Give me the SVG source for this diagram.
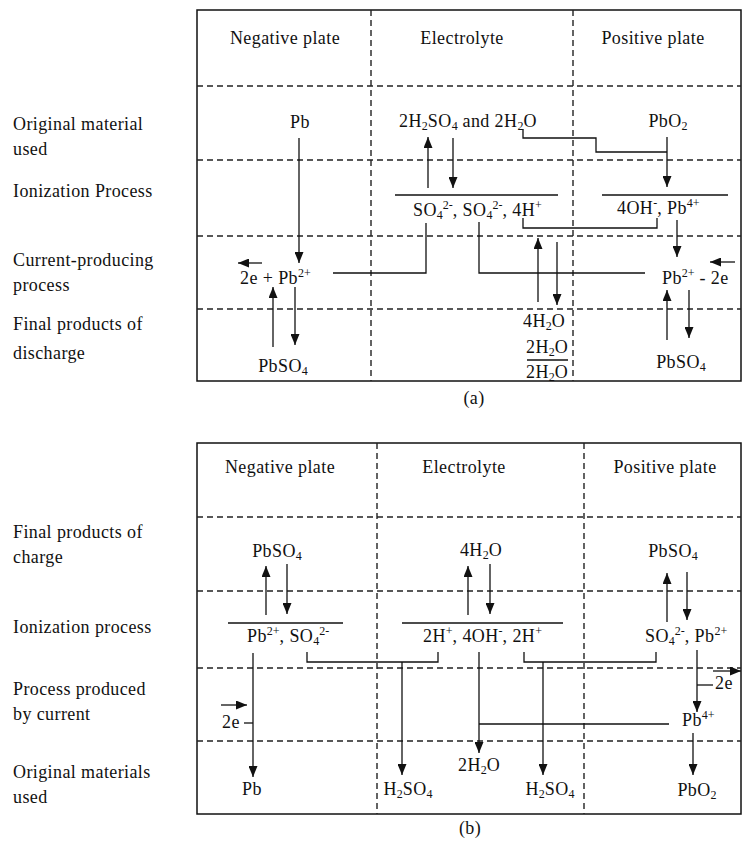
<svg xmlns="http://www.w3.org/2000/svg" width="742" height="844" viewBox="0 0 742 844">
<defs>
<marker id="ah" markerWidth="11" markerHeight="9" refX="11" refY="4.5" orient="auto" markerUnits="userSpaceOnUse"><path d="M0,0 L11,4.5 L0,9 Z" fill="#111"/></marker>
</defs>
<style>
text{font-family:"Liberation Serif","Times New Roman",serif;font-size:18px;fill:#111;letter-spacing:0.4px}
.m{text-anchor:middle}
.sb,.sp{font-size:12px;letter-spacing:0}
.frame{fill:none;stroke:#111;stroke-width:1.5}
.grid{fill:none;stroke:#222;stroke-width:1.4;stroke-dasharray:6 4}
.c{fill:none;stroke:#111;stroke-width:1.3}
.a{marker-end:url(#ah)}
</style>
<rect width="742" height="844" fill="#fff"/>

<!-- Diagram (a) frame and grid -->
<g id="frame-a">
<rect class="frame" x="197" y="10" width="544" height="371"/>
<path class="grid" d="M197,86H741M197,160H741M197,236H741M197,309H741M371,10V381M573,10V381"/>
</g>
<g id="headers-a">
<text class="m" x="285" y="44">Negative plate</text>
<text class="m" x="462" y="44">Electrolyte</text>
<text class="m" x="653" y="44">Positive plate</text>
</g>
<g id="rows-a">
<text x="13" y="130">Original material</text>
<text x="13" y="155">used</text>
<text x="13" y="197">Ionization Process</text>
<text x="13" y="266">Current-producing</text>
<text x="13" y="291">process</text>
<text x="13" y="330">Final products of</text>
<text x="13" y="359">discharge</text>
</g>
<g id="a-pb"><text class="m" x="300" y="128">Pb</text></g>
<g id="a-acid"><text x="399" y="127">2H<tspan class="sb" dy="3">2</tspan><tspan dy="-3">SO</tspan><tspan class="sb" dy="3">4</tspan><tspan dy="-3"> and 2H</tspan><tspan class="sb" dy="3">2</tspan><tspan dy="-3">O</tspan></text></g>
<g id="a-pbo2"><text class="m" x="668" y="127">PbO<tspan class="sb" dy="3">2</tspan></text></g>
<g id="a-ions-e"><text x="413" y="216">SO<tspan class="sb" dy="3">4</tspan><tspan class="sp" dy="-10">2-</tspan><tspan dy="7">, SO</tspan><tspan class="sb" dy="3">4</tspan><tspan class="sp" dy="-10">2-</tspan><tspan dy="7">, 4H</tspan><tspan class="sp" dy="-7">+</tspan></text></g>
<g id="a-ions-p"><text x="617" y="214">4OH<tspan class="sp" dy="-7">-</tspan><tspan dy="7">, Pb</tspan><tspan class="sp" dy="-7">4+</tspan></text></g>
<g id="a-neg-cur"><text x="240" y="284">2e + Pb<tspan class="sp" dy="-7">2+</tspan></text></g>
<g id="a-pos-cur"><text x="662" y="284">Pb<tspan class="sp" dy="-7">2+</tspan><tspan dy="7"> - 2e</tspan></text></g>
<g id="a-neg-prod"><text class="m" x="283" y="372">PbSO<tspan class="sb" dy="3">4</tspan></text></g>
<g id="a-pos-prod"><text class="m" x="681" y="368">PbSO<tspan class="sb" dy="3">4</tspan></text></g>
<g id="a-water">
<text x="523" y="327">4H<tspan class="sb" dy="3">2</tspan><tspan dy="-3">O</tspan></text>
<text x="526" y="353">2H<tspan class="sb" dy="3">2</tspan><tspan dy="-3">O</tspan></text>
<text x="526" y="378">2H<tspan class="sb" dy="3">2</tspan><tspan dy="-3">O</tspan></text>
</g>
<g id="caption-a"><text class="m" x="474" y="404">(a)</text></g>

<g id="connectors-a">
<path class="c a" d="M299,138V263"/>
<path class="c a" d="M262,263H238"/>
<path class="c" d="M333,273H426V223"/>
<path class="c a" d="M273,347V287"/>
<path class="c a" d="M295,287V345"/>
<path class="c a" d="M428,188V137"/>
<path class="c a" d="M453,138V188"/>
<path class="c" d="M395,195H558"/>
<path class="c" d="M523,129V138H596V152H667"/>
<path class="c a" d="M667,137V187"/>
<path class="c" d="M523,218V228H657V218"/>
<path class="c" d="M479,222V273H645"/>
<path class="c a" d="M538,302V238"/>
<path class="c a" d="M557,242V305"/>
<path class="c" d="M527,360H568"/>
<path class="c" d="M602,195H728"/>
<path class="c a" d="M677,220V257"/>
<path class="c a" d="M735,262H710"/>
<path class="c a" d="M667,340V290"/>
<path class="c a" d="M689,290V338"/>
</g>

<!-- Diagram (b) frame and grid -->
<g id="frame-b">
<rect class="frame" x="197" y="443" width="544" height="371"/>
<path class="grid" d="M197,517H741M197,591H741M197,668H741M197,741H741M377,443V814M584,443V814"/>
</g>
<g id="headers-b">
<text class="m" x="280" y="473">Negative plate</text>
<text class="m" x="464" y="473">Electrolyte</text>
<text class="m" x="665" y="473">Positive plate</text>
</g>
<g id="rows-b">
<text x="13" y="538">Final products of</text>
<text x="13" y="563">charge</text>
<text x="13" y="633">Ionization process</text>
<text x="13" y="695">Process produced</text>
<text x="13" y="720">by current</text>
<text x="13" y="778">Original materials</text>
<text x="13" y="803">used</text>
</g>
<g id="b-neg-top"><text class="m" x="277" y="557">PbSO<tspan class="sb" dy="3">4</tspan></text></g>
<g id="b-water-top"><text class="m" x="481" y="556">4H<tspan class="sb" dy="3">2</tspan><tspan dy="-3">O</tspan></text></g>
<g id="b-pos-top"><text class="m" x="673" y="557">PbSO<tspan class="sb" dy="3">4</tspan></text></g>
<g id="b-ions-n"><text x="247" y="642">Pb<tspan class="sp" dy="-7">2+</tspan><tspan dy="7">, SO</tspan><tspan class="sb" dy="3">4</tspan><tspan class="sp" dy="-10">2-</tspan></text></g>
<g id="b-ions-e"><text x="423" y="642">2H<tspan class="sp" dy="-7">+</tspan><tspan dy="7">, 4OH</tspan><tspan class="sp" dy="-7">-</tspan><tspan dy="7">, 2H</tspan><tspan class="sp" dy="-7">+</tspan></text></g>
<g id="b-ions-p"><text x="645" y="642">SO<tspan class="sb" dy="3">4</tspan><tspan class="sp" dy="-10">2-</tspan><tspan dy="7">, Pb</tspan><tspan class="sp" dy="-7">2+</tspan></text></g>
<g id="b-e-neg"><text x="222" y="728">2e</text></g>
<g id="b-e-pos"><text x="715" y="689">2e</text></g>
<g id="b-pb4"><text x="682" y="726">Pb<tspan class="sp" dy="-7">4+</tspan></text></g>
<g id="b-water"><text x="458" y="771">2H<tspan class="sb" dy="3">2</tspan><tspan dy="-3">O</tspan></text></g>
<g id="b-pb"><text class="m" x="252" y="795">Pb</text></g>
<g id="b-acid1"><text class="m" x="408" y="795">H<tspan class="sb" dy="3">2</tspan><tspan dy="-3">SO</tspan><tspan class="sb" dy="3">4</tspan></text></g>
<g id="b-acid2"><text class="m" x="550" y="795">H<tspan class="sb" dy="3">2</tspan><tspan dy="-3">SO</tspan><tspan class="sb" dy="3">4</tspan></text></g>
<g id="b-pbo2"><text class="m" x="697" y="796">PbO<tspan class="sb" dy="3">2</tspan></text></g>
<g id="caption-b"><text class="m" x="470" y="834">(b)</text></g>

<g id="connectors-b">
<path class="c a" d="M266,615V566"/>
<path class="c a" d="M287,564V614"/>
<path class="c" d="M228,623H343"/>
<path class="c a" d="M468,615V566"/>
<path class="c a" d="M490,564V614"/>
<path class="c" d="M402,623H563"/>
<path class="c a" d="M667,622V573"/>
<path class="c a" d="M687,572V620"/>
<path class="c a" d="M253,653V777"/>
<path class="c" d="M244,723H253"/>
<path class="c a" d="M221,705H247"/>
<path class="c" d="M307,652V662H438V652"/>
<path class="c a" d="M402,662V775"/>
<path class="c a" d="M479,652V753"/>
<path class="c" d="M479,724H669"/>
<path class="c" d="M524,652V662H656V652"/>
<path class="c a" d="M543,662V775"/>
<path class="c a" d="M697,650V712"/>
<path class="c" d="M697,685H713"/>
<path class="c a" d="M713,671H741"/>
<path class="c a" d="M693,733V775"/>
</g>
</svg>
